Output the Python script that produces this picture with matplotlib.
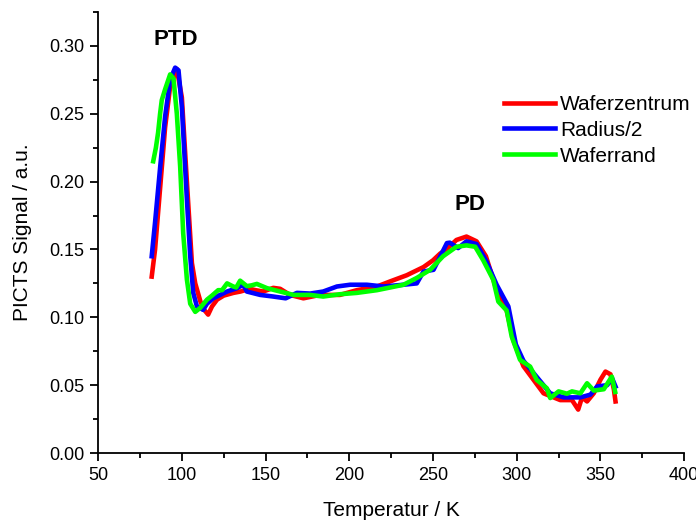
import numpy as np
import matplotlib.pyplot as plt

plt.rcParams['font.family'] = ['Liberation Sans', 'DejaVu Sans']

# ----------------------------------------------------------------------
# Data (temperature in K, PICTS signal in a.u.)
# ----------------------------------------------------------------------
t_red = [82, 84, 87, 90, 93, 97, 100, 103, 106, 108, 111, 113, 115.7, 118, 121,
         125, 130.8, 135, 140.6, 144, 148.6, 154.6, 158.7, 164.6, 172.6, 182.5,
         194.4, 204.5, 216.5, 224.5, 234.3, 244.3, 250, 254.3, 258, 264, 270,
         276, 281.6, 288, 294, 298, 304, 310, 316, 326, 333, 336.7, 339, 342,
         346, 350, 353, 356, 358, 359]
y_red = [0.130, 0.150, 0.195, 0.240, 0.270, 0.283, 0.262, 0.200, 0.140, 0.125,
         0.112, 0.106, 0.102, 0.108, 0.113, 0.116, 0.118, 0.119, 0.121, 0.120,
         0.119, 0.1217, 0.121, 0.1165, 0.114, 0.1165, 0.1165, 0.120, 0.1227,
         0.1265, 0.131, 0.137, 0.142, 0.147, 0.150, 0.157, 0.1595, 0.156, 0.145,
         0.120, 0.105, 0.083, 0.064, 0.054, 0.044, 0.039, 0.039, 0.032, 0.041,
         0.038, 0.044, 0.054, 0.060, 0.058, 0.047, 0.038]

t_blue = [82, 84, 87, 90, 93, 96, 98, 100, 103, 105, 106.8, 109, 112.7, 115,
          118.7, 122, 127, 133, 136.6, 138.8, 146.8, 154.6, 162, 168.7, 176.6,
          184.4, 192.6, 200.5, 210.5, 220.5, 232.4, 240.3, 244.3, 250.3, 258.3,
          260, 265, 270, 276, 281.6, 288, 295, 299.5, 304, 312, 320, 328, 338,
          344, 348, 354, 357, 359]
y_blue = [0.145, 0.170, 0.210, 0.248, 0.275, 0.284, 0.282, 0.255, 0.187, 0.145,
          0.118, 0.108, 0.1055, 0.110, 0.114, 0.116, 0.119, 0.1215, 0.124,
          0.119, 0.1165, 0.1153, 0.114, 0.118, 0.1175, 0.119, 0.1227, 0.124,
          0.124, 0.1227, 0.124, 0.125, 0.1337, 0.135, 0.1547, 0.155, 0.151,
          0.156, 0.154, 0.142, 0.124, 0.108, 0.080, 0.068, 0.056, 0.044, 0.041,
          0.041, 0.043, 0.049, 0.050, 0.055, 0.049]

t_green = [82.9, 84.5, 85.8, 87, 88, 90, 93, 95, 97, 99, 100.8, 103, 105, 108,
           111, 115, 118, 121.7, 124, 127, 130.7, 132.5, 134.8, 138.8, 141.5,
           144.8, 150.8, 158.7, 166.7, 176.6, 184.4, 194.4, 204.5, 216.5, 224.5,
           232.4, 240.3, 248.3, 256, 264, 270, 275.2, 280, 286, 289, 294, 297,
           302, 308, 312, 318, 320, 325, 330, 333, 338, 342, 346, 352, 356.8,
           358.8]
y_green = [0.215, 0.225, 0.236, 0.250, 0.260, 0.268, 0.279, 0.276, 0.250, 0.211,
           0.162, 0.128, 0.110, 0.104, 0.107, 0.113, 0.116, 0.120, 0.120, 0.125,
           0.1227, 0.122, 0.127, 0.123, 0.1235, 0.1246, 0.1215, 0.119, 0.1165,
           0.1165, 0.1153, 0.117, 0.118, 0.120, 0.122, 0.124, 0.129, 0.135,
           0.145, 0.152, 0.153, 0.152, 0.142, 0.1276, 0.1116, 0.105, 0.0858,
           0.0686, 0.0637, 0.0538, 0.0477, 0.0405, 0.0454, 0.0437, 0.0454,
           0.044, 0.0514, 0.046, 0.047, 0.0563, 0.045]

series = [
    ("Waferzentrum", t_red, y_red, "#ff0000"),
    ("Radius/2", t_blue, y_blue, "#0000ff"),
    ("Waferrand", t_green, y_green, "#00ff00"),
]

fig = plt.figure(figsize=(6.96, 5.21), dpi=100)
ax = fig.add_axes([0.141, 0.1305, 0.842, 0.8465])

for label, t, y, c in series:
    ax.plot(t, y, color=c, lw=3.3, label=label, solid_joinstyle="round")

ax.set_xlim(50, 400)
ax.set_ylim(0, 0.325)
ax.set_xticks(np.arange(50, 401, 50))
ax.set_xticks(np.arange(75, 400, 50), minor=True)
ax.set_yticks(np.arange(0, 0.31, 0.05))
ax.set_yticks(np.arange(0.025, 0.326, 0.05), minor=True)
ax.set_yticklabels([f"{v:.2f}" for v in np.arange(0, 0.31, 0.05)])

for side in ("top", "right"):
    ax.spines[side].set_visible(False)
for side in ("left", "bottom"):
    ax.spines[side].set_linewidth(1.3)
ax.tick_params(which="major", direction="out", length=6, width=1.3,
               labelsize=13, pad=4)
ax.tick_params(which="minor", direction="out", length=3.5, width=1.3)

ax.set_xlabel("Temperatur / K", fontsize=15, labelpad=12)
ax.set_ylabel("PICTS Signal / a.u.", fontsize=15, labelpad=12)

ax.text(96.6, 0.3046, "PTD", fontsize=16, fontweight="bold",
        ha="center", va="center")
ax.text(272, 0.183, "PD", fontsize=16, fontweight="bold",
        ha="center", va="center")

fig.legend(loc="upper left", bbox_to_anchor=(0.724, 0.818), frameon=False,
           fontsize=15, handlelength=2.45, handletextpad=0.25,
           labelspacing=0.33, borderpad=0, borderaxespad=0)

fig.savefig("out.png", dpi=100)
